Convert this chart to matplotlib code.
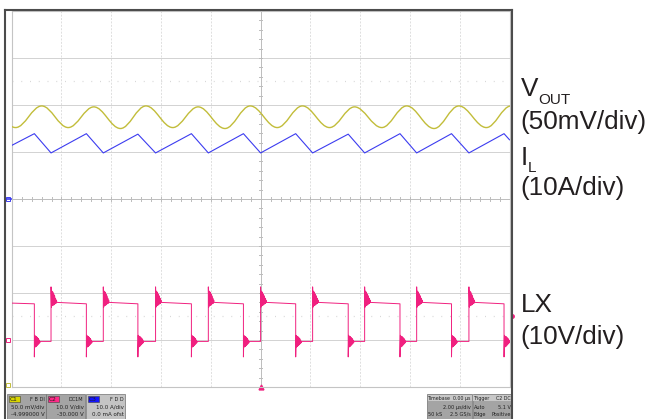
import numpy as np
import matplotlib
matplotlib.use('Agg')
import matplotlib.pyplot as plt
from matplotlib.path import Path
from matplotlib.patches import PathPatch, Rectangle
from matplotlib.lines import Line2D
from matplotlib.transforms import Affine2D

W, H = 657, 419

# channel scale (units/div) and offset
vout_scale, vout_offset = 50.0, -4999.0   # mV
il_scale, il_offset = 10.0, 0.0           # A
lx_scale, lx_offset = 10.0, -30.0         # V

# LX switch node: edge times (us) and levels (V)
lx_rise = [-8.42, -6.32, -4.22, -2.10, 0.00, 2.09, 4.18, 6.27, 8.37]
lx_fall = [-9.09, -7.00, -4.93, -2.78, -0.69, 1.41, 3.52, 5.60, 7.67, 9.78]
lx_start = 7.85
lx_high_end = 7.7
lx_low = -0.3
lx_ring_hi = [11.3, 7.0, 10.4, 7.3, 10.2, 7.4, 9.8, 7.5, 9.4, 7.7, 8.9, 7.8, 8.5, 8.0]
lx_ring_lo = [-3.6, 1.0, -1.5, 0.8, -1.4, 0.7, -1.2, 0.5, -1.0, 0.3, -0.8, 0.0, -0.6, -0.3]
ring_dt = 0.018

# inductor current: peaks at LX falling edges, valleys at LX rising edges (A)
il_start, il_end = 11.4, 12.6
il_peak = [13.9, 13.9, 13.8, 13.9, 13.9, 13.9, 13.8, 13.9, 13.9, 13.9]
il_valley = [9.8, 9.8, 9.8, 9.8, 9.8, 9.8, 9.8, 9.8, 9.8]

# output voltage ripple extremes (us, mV)
vout_t = [-10.94, -9.845, -8.795, -7.73, -6.70, -5.63, -4.605, -3.53, -2.51, -1.43,
          -0.415, 0.67, 1.68, 2.77, 3.775, 4.87, 5.87, 6.97, 7.965, 9.07, 10.06]
vout_mv = [5098, 5075, 5098, 5075, 5097, 5074, 5098, 5075, 5097, 5074,
           5098, 5075, 5098, 5075, 5097, 5075, 5098, 5074, 5098, 5075, 5098]

YEL = '#c2bd3a'
BLU = '#3c3cf0'
PNK = '#f0207f'
GRID = '#d2d2d2'


def to_div(v, scale, offset):
    return (np.asarray(v, dtype=float) + offset) / scale


fig = plt.figure(figsize=(W / 100, H / 100), dpi=100)
fig.patch.set_facecolor('white')
px = Affine2D().scale(1.0 / W, -1.0 / H).translate(0, 1) + fig.transFigure

x0, x1, y0, y1 = 11.7, 509.5, 11.0, 387.0
ax = fig.add_axes([x0 / W, 1 - y1 / H, (x1 - x0) / W, (y1 - y0) / H])
ax.set_xlim(-10, 10)
ax.set_ylim(-4, 4)
ax.set_xticks([])
ax.set_yticks([])
for s in ax.spines.values():
    s.set_color('#c4c4c4')
    s.set_linewidth(0.8)

# graticule
for gx in range(-8, 9, 2):
    if gx != 0:
        ax.axvline(gx, color='#dedede', lw=0.7, ls=(0, (2, 1.5)), zorder=0)
for gy in range(-3, 4):
    if gy != 0:
        ax.axhline(gy, color=GRID, lw=0.7, zorder=0)
for gy in (-2.5, 2.5):
    ax.axhline(gy, color='#d8d8d8', lw=0.9, ls=(0, (0.8, 6.2)), zorder=0)
ax.axhline(0, color='#bcbcbc', lw=0.7, zorder=0)
ax.axvline(0, color='#bcbcbc', lw=0.7, zorder=0)
for tx in np.arange(-10, 10.01, 0.4):
    ax.plot([tx, tx], [-0.05, 0.05], color='#bcbcbc', lw=0.7, zorder=0)
for ty in np.arange(-4, 4.01, 0.2):
    ax.plot([-0.06, 0.06], [ty, ty], color='#bcbcbc', lw=0.7, zorder=0)

# VOUT: smooth half-wave segments between extremes
yv = to_div(vout_mv, vout_scale, vout_offset)
k = 0.3642
verts = [(vout_t[0], yv[0])]
codes = [Path.MOVETO]
for i in range(1, len(vout_t)):
    ta, tb = vout_t[i - 1], vout_t[i]
    d = tb - ta
    verts += [(ta + k * d, yv[i - 1]), (tb - k * d, yv[i]), (tb, yv[i])]
    codes += [Path.CURVE4] * 3
ax.add_patch(PathPatch(Path(verts, codes), fill=False, edgecolor=YEL, lw=1.0, zorder=3))

# IL triangle
events = sorted([(t, 'f', i) for i, t in enumerate(lx_fall)] +
                [(t, 'r', i) for i, t in enumerate(lx_rise)])
il_t, il_v = [-10.0], [il_start]
for t, kind, i in events:
    il_t.append(t)
    il_v.append(il_peak[i] if kind == 'f' else il_valley[i])
il_t.append(10.0)
il_v.append(il_end)
ax.plot(il_t, to_div(il_v, il_scale, il_offset), color=BLU, lw=0.8, zorder=4)

# LX with edge ringing
lt, lv = [-10.0], [lx_start]
for t, kind, i in events:
    if kind == 'f':
        lt.append(t)
        lv.append(lx_high_end)
        ring = lx_ring_lo
    else:
        lt.append(t)
        lv.append(lx_low)
        ring = lx_ring_hi
    for j, r in enumerate(ring):
        lt.append(t + j * ring_dt)
        lv.append(r)
lt.append(10.0)
lv.append(lx_low)
ax.plot(lt, to_div(lv, lx_scale, lx_offset), color=PNK, lw=0.7, zorder=5)

# channel / trigger markers
ax.plot([-10.15], [to_div(0, il_scale, il_offset)], marker='s', ms=3, mfc='none',
        mec=BLU, mew=0.7, clip_on=False)
ax.plot([-10.22, -10.0], [0, 0], color=BLU, lw=1.2, clip_on=False)
ax.plot([-10.15], [to_div(0, lx_scale, lx_offset)], marker='s', ms=3, mfc='none',
        mec=PNK, mew=0.7, clip_on=False)
ax.plot([-10.15], [-3.95], marker='s', ms=2.5, mfc='none', mec=YEL, mew=0.7, clip_on=False)
ax.plot([0], [-4.0], marker='^', ms=3.5, color=PNK, clip_on=False)
ax.plot([10.1], [to_div(5.1, lx_scale, lx_offset)], marker='o', ms=2.5, color=PNK, clip_on=False)

# scope frame
for xs, ys in (([5, 5], [10, 420]), ([5, 512], [10, 10]), ([512, 512], [10, 420])):
    fig.add_artist(Line2D(xs, ys, color='#4c4c4c', lw=1.5, transform=px))

# channel info boxes
boxes = [
    (7, 'C1', '#d8d400', 'F B DI', '50.0 mV/div', '-4.999000 V', '#a4a4a4'),
    (46, 'C2', '#ff2a88', 'DC1M', '10.0 V/div', '-30.000 V', '#a4a4a4'),
    (86, 'C3', '#1414ff', 'F D D', '10.0 A/div', '0.0 mA ofst', '#c4c4c4'),
]
for bx, tag, tagc, flags, l1, l2, bg in boxes:
    fig.add_artist(Rectangle((bx, 394), 39, 27, facecolor=bg, edgecolor='#707070',
                             lw=0.5, transform=px))
    fig.add_artist(Rectangle((bx + 1.5, 395.5), 11, 6.5, facecolor=tagc, edgecolor='#404040',
                             lw=0.4, transform=px))
    fig.text(bx + 7, 399, tag, transform=px, fontsize=4.2, ha='center', va='center',
             color='#202020')
    fig.text(bx + 37.5, 399, flags, transform=px, fontsize=3.6, ha='right', va='center',
             color='#202020')
    fig.text(bx + 37.5, 407, l1, transform=px, fontsize=4.0, ha='right', va='center',
             color='#202020')
    fig.text(bx + 37.5, 414, l2, transform=px, fontsize=4.0, ha='right', va='center',
             color='#202020')

info = [
    (427, 45, 'Timebase', '0.00 µs', ['', '2.00 µs/div'], ['50 kS', '2.5 GS/s']),
    (472.5, 39.5, 'Trigger', 'C2 DC', ['Auto', '5.1 V'], ['Edge', 'Positive']),
]
for bx, bw, head, hval, r1, r2 in info:
    fig.add_artist(Rectangle((bx, 394), bw, 27, facecolor='#a4a4a4', edgecolor='#707070',
                             lw=0.5, transform=px))
    fig.add_artist(Rectangle((bx + 0.5, 394.5), bw - 1, 6.5, facecolor='#c8c8c8',
                             edgecolor='none', transform=px))
    fig.text(bx + 1.2, 398, head, transform=px, fontsize=3.4, va='center', color='#202020')
    fig.text(bx + bw - 1.2, 398, hval, transform=px, fontsize=3.4, ha='right', va='center',
             color='#202020')
    for yy, (a, b) in ((407, r1), (414, r2)):
        fig.text(bx + 1.2, yy, a, transform=px, fontsize=3.6, va='center', color='#202020')
        fig.text(bx + bw - 1.2, yy, b, transform=px, fontsize=3.6, ha='right', va='center',
                 color='#202020')

# trace labels
tc = '#231f20'
big, small = 18.8, 11
lab = dict(transform=px, family='Liberation Sans', color=tc, va='baseline')
fig.text(520.5, 96, 'V', fontsize=big, **lab)
fig.text(538, 104.3, 'OUT', fontsize=small, **lab)
fig.text(520.5, 128.7, '(50mV/div)', fontsize=big, **lab)
fig.text(520.5, 165, 'I', fontsize=big, **lab)
fig.text(528, 171.7, 'L', fontsize=small, **lab)
fig.text(520.5, 195, '(10A/div)', fontsize=big, **lab)
fig.text(520.5, 311.7, 'LX', fontsize=big, **lab)
fig.text(520.5, 344, '(10V/div)', fontsize=big, **lab)

fig.savefig('out.png', dpi=100, facecolor='white')
